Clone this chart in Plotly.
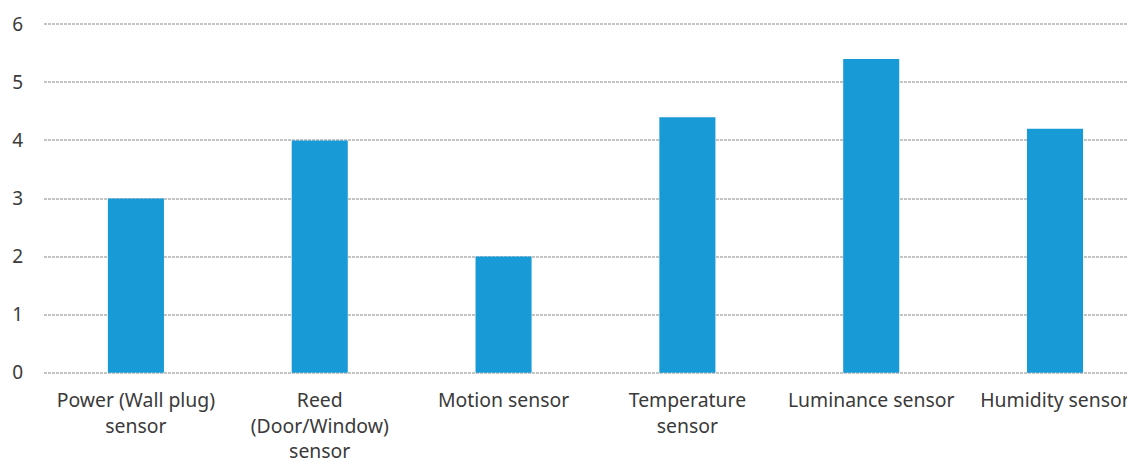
import plotly.graph_objects as go

categories = ["Power (Wall plug)<br>sensor", "Reed<br>(Door/Window)<br>sensor", "Motion sensor",
              "Temperature<br>sensor", "Luminance sensor", "Humidity sensor"]
values = [3.0, 4.0, 2.0, 4.4, 5.4, 4.2]
y_ticks = [0, 1, 2, 3, 4, 5, 6]

# the page body has an 8px default margin, so the figure is offset by 8px
fig = go.Figure()
fig.add_trace(go.Bar(x=list(range(len(categories))), y=values, width=0.305,
                     marker=dict(color="#189ad6", line=dict(width=0))))

fig.update_layout(
    width=1127, height=456,
    margin=dict(l=36, r=0, t=15, b=90, autoexpand=False),
    paper_bgcolor="white", plot_bgcolor="white",
    showlegend=False,
    font=dict(family="Noto Sans, Open Sans, sans-serif", size=19.4, color="#3a3a3a"),
    xaxis=dict(tickmode="array", tickvals=list(range(len(categories))), ticktext=categories,
               range=[-0.5, 5.435], showgrid=False, zeroline=False, showline=False,
               ticks="", automargin=False, ticklabelstandoff=13, ticklabeloverflow="allow",
               tickfont=dict(size=19.4, color="#3a3a3a")),
    yaxis=dict(range=[-0.02, 6.02], tickvals=y_ticks, ticktext=[str(v) for v in y_ticks],
               showgrid=True, gridcolor="#c4c4c4", griddash="3px,1px", gridwidth=1.5,
               zeroline=False, showline=False, ticks="", ticklabelstandoff=20, automargin=False,
               tickfont=dict(family="Noto Sans, sans-serif", size=19, color="#3a3a3a")),
)
fig.write_html("out.html")
